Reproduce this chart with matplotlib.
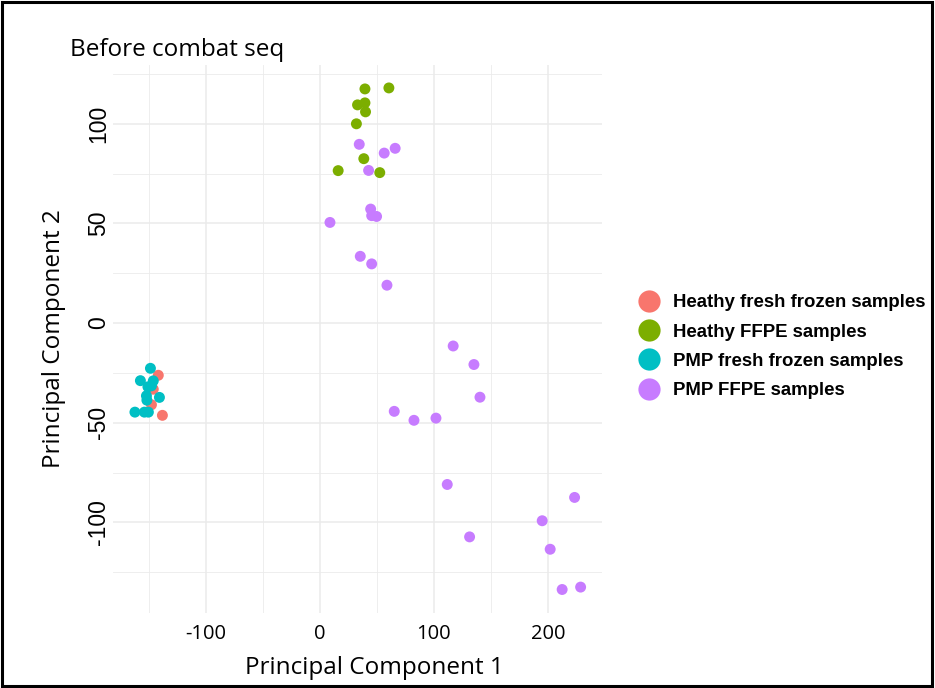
import matplotlib
matplotlib.use("Agg")
import matplotlib.pyplot as plt
from matplotlib.lines import Line2D
from matplotlib.patches import Rectangle

# ---- data ----
groups = ["Heathy fresh frozen samples", "Heathy FFPE samples",
          "PMP fresh frozen samples", "PMP FFPE samples"]
colors = ["#F8766D", "#7CAE00", "#00BFC4", "#C77CFF"]

hff_x = [-141.8, -146.2, -147.8, -138.2]
hff_y = [-26.2, -33.2, -41.0, -46.3]

hffpe_x = [39.5, 60.5, 33.0, 39.5, 40.0, 32.0, 38.5, 16.0, 52.5]
hffpe_y = [117.5, 118.0, 109.5, 110.5, 106.0, 100.0, 82.5, 76.5, 75.5]

pff_x = [-148.7, -157.5, -146.2, -147.8, -150.9, -152.2, -140.8, -151.8,
         -162.3, -154.0, -150.5]
pff_y = [-22.7, -28.9, -29.0, -31.5, -32.0, -36.5, -37.3, -38.7,
         -44.7, -44.7, -44.7]

pffpe_x = [34.5, 56.4, 66.0, 42.7, 44.5, 45.4, 49.7, 8.8, 35.4, 45.4, 58.8,
           116.9, 135.1, 140.4, 65.2, 82.5, 101.8, 111.7, 131.3,
           223.4, 195.0, 202.0, 212.5, 228.7]
pffpe_y = [89.7, 85.3, 87.7, 76.6, 57.2, 53.9, 53.5, 50.5, 33.5, 29.7, 19.0,
           -11.5, -20.8, -37.2, -44.3, -48.8, -47.7, -81.0, -107.3,
           -87.5, -99.2, -113.5, -133.7, -132.5]

xticks = [-100, 0, 100, 200]
yticks = [-100, -50, 0, 50, 100]
xminor = [-150, -50, 50, 150]
yminor = [-125, -75, -25, 25, 75, 125]

title = "Before combat seq"
xlabel = "Principal Component 1"
ylabel = "Principal Component 2"

# ---- figure ----
fig = plt.figure(figsize=(9.35, 6.88), dpi=100)
fig.patches.append(Rectangle((0.002, 0.003), 0.995, 0.994, transform=fig.transFigure,
                             fill=False, edgecolor="black", linewidth=2.2))
ax = fig.add_axes([0.1209, 0.109, 0.523, 0.7965])

ax.set_xlim(-181.5, 247.5)
ax.set_ylim(-145.5, 129.5)

for v in xminor:
    ax.axvline(v, color="#EBEBEB", lw=0.6, zorder=0)
for v in yminor:
    ax.axhline(v, color="#EBEBEB", lw=0.6, zorder=0)
for v in xticks:
    ax.axvline(v, color="#EBEBEB", lw=1.1, zorder=0)
for v in yticks:
    ax.axhline(v, color="#EBEBEB", lw=1.1, zorder=0)

series = [(hff_x, hff_y), (hffpe_x, hffpe_y), (pff_x, pff_y), (pffpe_x, pffpe_y)]
for (xs, ys), c, g in zip(series, colors, groups):
    ax.scatter(xs, ys, s=62, color=c, edgecolors="none", label=g, zorder=3)

for s in ax.spines.values():
    s.set_visible(False)
ax.set_xticks(xticks)
ax.set_yticks(yticks)
ax.tick_params(axis="x", length=0, pad=8)
ax.tick_params(axis="y", length=0, pad=2)
ax.set_xticklabels([str(t) for t in xticks], fontfamily="Open Sans", fontsize=14.5)
ax.set_yticklabels([str(t) for t in yticks], rotation=90, va="center",
                   fontfamily="Liberation Sans", fontsize=16.5)

ax.set_xlabel(xlabel, fontsize=17.5, fontfamily="Open Sans")
ax.xaxis.set_label_coords(0.534, -0.078)
ax.set_ylabel(ylabel, fontsize=17.5, fontfamily="Open Sans")
ax.yaxis.set_label_coords(-0.097, 0.5)
fig.text(70 / 935, 1 - 50 / 688, title, fontsize=17.5, fontfamily="Open Sans",
         va="center", ha="left")

handles = [Line2D([0], [0], marker="o", linestyle="", markersize=16,
                  markerfacecolor=c, markeredgecolor="none") for c in colors]
leg = fig.legend(handles, groups, loc="center left",
                 bbox_to_anchor=(0.674, 0.496), frameon=False,
                 prop={"family": "Liberation Sans", "weight": "bold", "size": 13.4},
                 handletextpad=0.78, labelspacing=0.66, handlelength=1.0,
                 borderpad=0)

fig.savefig("out.png", dpi=100)
